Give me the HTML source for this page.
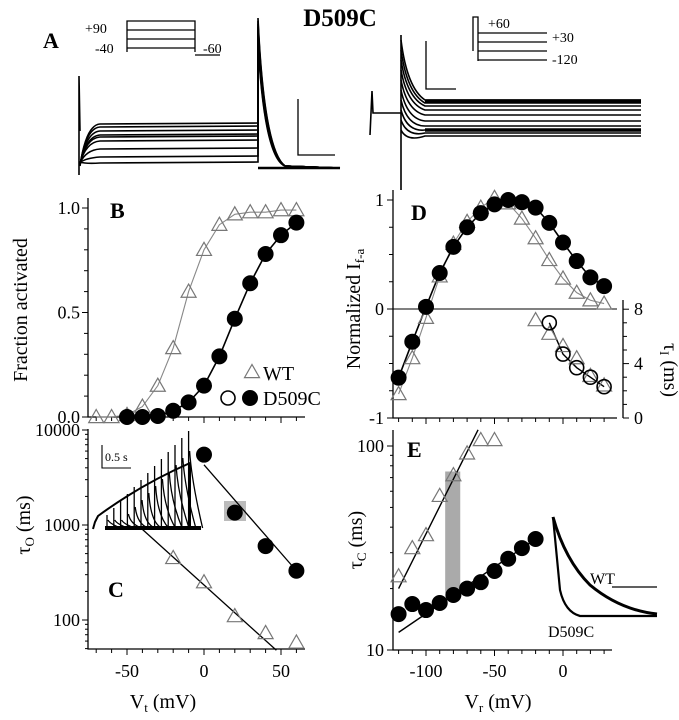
<!DOCTYPE html>
<html><head><meta charset="utf-8"><style>
html,body{margin:0;padding:0;background:#fff}
svg{display:block;font-family:"Liberation Serif",serif}
</style></head><body>
<svg id="fig" width="679" height="720" viewBox="0 0 679 720">
<text x="340" y="26" font-size="25" font-weight="bold" text-anchor="middle">D509C</text>
<g id="panelA" stroke="#000" fill="none" stroke-width="1.6">
<text x="43" y="48" font-size="22" font-weight="bold" stroke="none" fill="#000">A</text>
<g stroke-width="1.3">
<path d="M127 52V21H195V52M127 30H195M127 39H195M127 48H195M195 55H220"/>
<text x="85" y="33" font-size="14" stroke="none" fill="#000">+90</text>
<text x="95" y="53" font-size="14" stroke="none" fill="#000">-40</text>
<text x="203" y="53" font-size="14" stroke="none" fill="#000">-60</text>
</g>
<path d="M298 99V155H335" stroke-width="1.3"/>
<path d="M426 41V89H456" stroke-width="1.3"/>
<g stroke-width="1.3">
<path d="M473 51V17H478V61M478 33H547M478 42H547M478 51H547M478 60H547"/>
<text x="488" y="28" font-size="14" stroke="none" fill="#000">+60</text>
<text x="552" y="42" font-size="14" stroke="none" fill="#000">+30</text>
<text x="552" y="64" font-size="14" stroke="none" fill="#000">-120</text>
</g>
<g id="tracesL"></g>
<g id="tracesR"></g>
</g>
<g id="plots"></g>
</svg>
<script>
// ---- data ----
const bVolt=[-70,-60,-50,-40,-30,-20,-10,0,10,20,30,40,50,60];
const bWT=[0,0,0.01,0.05,0.15,0.33,0.6,0.8,0.92,0.97,0.98,0.98,0.99,0.99];
const bMutV=[-50,-40,-30,-20,-10,0,10,20,30,40,50,60];
const bMut=[0,0,0.005,0.03,0.07,0.15,0.29,0.47,0.64,0.78,0.87,0.93];
const cWTV=[-20,0,20,40,60];
const cWT=[450,250,110,73,58];
const cMutV=[0,20,40,60];
const cMut=[5500,1350,600,330];
const dVolt=[-120,-110,-100,-90,-80,-70,-60,-50,-40,-30,-20,-10,0,10,20,30];
const dMut=[-0.63,-0.3,0.02,0.33,0.57,0.75,0.88,0.96,1.0,0.98,0.93,0.79,0.61,0.44,0.29,0.21];
const dWT=[-0.78,-0.45,-0.08,0.3,0.6,0.8,0.93,1.02,0.97,0.83,0.65,0.45,0.28,0.15,0.08,0.05];
const tauIV=[-10,0,10,20,30];
const tauIMut=[7.0,4.7,3.7,3.0,2.3];
const tauIWTV=[-20,-10,0,10,20,30];
const tauIWT=[7.2,6.2,5.3,4.4,3.1,2.4];
const eVolt=[-120,-110,-100,-90,-80,-70,-60,-50];
const eWT=[23,31.6,36.6,57,72,92,107,107];
const eMutV=[-120,-110,-100,-90,-80,-70,-60,-50,-40,-30,-20];
const eMut=[15,16.8,15.7,17,18.6,20,21.5,24.4,28,31.6,35];
const bTicks=["0.0","0.5","1.0"];
const cTicks=["100","1000","10000"];
const xTicksL=["-50","0","50"];
const xTicksR=["-100","-50","0"];

const NS="http://www.w3.org/2000/svg";
const root=document.getElementById('plots');
function mk(tag,at,parent){const e=document.createElementNS(NS,tag);for(const k in at)e.setAttribute(k,at[k]);(parent||root).appendChild(e);return e;}
function txt(x,y,s,sz,anchor,parent,extra){const t=mk('text',Object.assign({x:x,y:y,'font-size':sz,'text-anchor':anchor||'start'},extra||{}),parent);t.textContent=s;return t;}
const xL=v=>204+v*1.54;
const yB=v=>417-v*209;
const yC=v=>525-(Math.log10(v)-3)*95;
const xR=v=>563+v*1.37;
const yD=v=>309-v*109;
const yT=v=>418-v*13.6;
const yE=v=>650-(Math.log10(v)-1)*204;
const FS=18;

function tri(g,x,y,name){const s=7.5;const p=mk('path',{d:`M${x} ${y-s}L${x+s} ${y+s*0.75}L${x-s} ${y+s*0.75}Z`,fill:'none',stroke:'#777','stroke-width':1.2},g);

}
function dot(g,x,y,name,open){const c=mk('circle',{cx:x,cy:y,r:open?7:7.5,fill:open?'none':'#000',stroke:'#000','stroke-width':open?1.6:1},g);

}
function line(g,xs,ys,col,w){mk('polyline',{points:xs.map((x,i)=>x+','+ys[i]).join(' '),fill:'none',stroke:col,'stroke-width':w||1.4},g);}

// ---- panel B ----
const gB=mk('g',{});


mk('path',{d:'M88 198V417H305',stroke:'#000',fill:'none','stroke-width':1.3},gB);
for(let i=0;i<=10;i++){const y=yB(i/10);mk('line',{x1:88,x2:i%5?84:82,y1:y,y2:y,stroke:'#000'},gB);}
bTicks.forEach((s,i)=>txt(80,yB(i*0.5)+6,s,FS,'end',gB));
for(let v=-70;v<=60;v+=10){mk('line',{x1:xL(v),x2:xL(v),y1:417,y2:v%50?421:423,stroke:'#000'},gB);}
txt(27,310,'Fraction activated',20,'middle',gB,{transform:'rotate(-90 27 310)'});
txt(110,218,'B',22,'start',gB,{'font-weight':'bold'});
line(gB,bVolt.map(xL),bWT.map(yB),'#888',1.1);
line(gB,bMutV.map(xL),bMut.map(yB),'#000',1.6);
bVolt.forEach((v,i)=>tri(gB,xL(v),yB(bWT[i]),'wt-point'));
bMutV.forEach((v,i)=>dot(gB,xL(v),yB(bMut[i]),'d509c-point'));
tri(gB,252,372,'legend-wt-symbol');txt(263,380,'WT',20,'start',gB);
dot(gB,228,398,'legend-open-symbol',true);dot(gB,250,398,'legend-filled-symbol');txt(263,405,'D509C',20,'start',gB);

// ---- panel C ----
const gC=mk('g',{});


mk('path',{d:'M88 429V649H305',stroke:'#000',fill:'none','stroke-width':1.3},gC);
for(let d=1;d<=4;d++)for(let m=1;m<10;m++){const v=Math.pow(10,d)*m;const y=yC(v);if(y<429||y>649)continue;mk('line',{x1:88,x2:m==1?82:85,y1:y,y2:y,stroke:'#000'},gC);}
cTicks.forEach((s,i)=>txt(80,yC(Math.pow(10,i+2))+6,s,FS,'end',gC));
for(let v=-70;v<=60;v+=10){mk('line',{x1:xL(v),x2:xL(v),y1:649,y2:v%50?653:655,stroke:'#000'},gC);}
xTicksL.forEach((s,i)=>txt(xL(-50+i*50),677,s,FS,'middle',gC));
const tl=txt(163,708,'V',20,'middle',gC);tl.innerHTML='V<tspan font-size="13" dy="4">t</tspan><tspan dy="-4"> (mV)</tspan>';
const cl=txt(30,525,'',20,'middle',gC,{transform:'rotate(-90 30 525)'});cl.innerHTML='τ<tspan font-size="13" dy="4">O</tspan><tspan dy="-4"> (ms)</tspan>';
txt(108,597,'C',22,'start',gC,{'font-weight':'bold'});
mk('rect',{x:224,y:501,width:22,height:20,fill:'#bbb'},gC);
line(gC,[xL(0),xL(60)],[yC(4300),yC(330)],'#000',1.3);
line(gC,[xL(-40),xL(47)],[yC(900),yC(48)],'#000',1.3);
cMutV.forEach((v,i)=>dot(gC,xL(v),yC(cMut[i]),'d509c-tau-o'));
cWTV.forEach((v,i)=>tri(gC,xL(v),yC(cWT[i]),'wt-tau-o'));
const gI=mk('g',{stroke:'#000',fill:'none','stroke-width':1.3},gC);


mk('path',{d:'M102 445V468H131','stroke-width':1.1},gI);
txt(105,461,'0.5 s',12,'start',gI,{stroke:'none',fill:'#000'});
mk('path',{d:'M93 529L95 522L98 516Q140 485 190 463V529','stroke-width':2},gI);
for(let k=0;k<13;k++){const x=107+k*6.8;const top=515-k*7;const cy=Math.min(top+50,524);mk('path',{d:`M${x} 529V${top}M${x+1} ${Math.min(top+20,520)}Q${x+3} ${cy} ${x+14} 528`},gI);}
mk('path',{d:'M105 528H201','stroke-width':4},gI);

// ---- panel D ----
const gD=mk('g',{});


mk('path',{d:'M393 190V418H617',stroke:'#000',fill:'none','stroke-width':1.3},gD);
mk('line',{x1:393,x2:617,y1:309,y2:309,stroke:'#000'},gD);
for(let i=-4;i<=4;i++){const y=yD(i/4);mk('line',{x1:393,x2:i%4?389:387,y1:y,y2:y,stroke:'#000'},gD);}
[["-1",-1],["0",0],["1",1]].forEach(a=>txt(384,yD(a[1])+6,a[0],FS,'end',gD));
for(let v=-120;v<=30;v+=10){mk('line',{x1:xR(v),x2:xR(v),y1:418,y2:v%50?422:424,stroke:'#000'},gD);}
const dl=txt(360,309,'',20,'middle',gD,{transform:'rotate(-90 360 309)'});dl.innerHTML='Normalized I<tspan font-size="13" dy="4">f-a</tspan>';
txt(411,220,'D',22,'start',gD,{'font-weight':'bold'});
mk('line',{x1:623,x2:623,y1:300,y2:418,stroke:'#000','stroke-width':1.3},gD);
for(let v=0;v<=8;v++){mk('line',{x1:623,x2:v%4?627:629,y1:yT(v),y2:yT(v),stroke:'#000'},gD);}
[["0",0],["4",4],["8",8]].forEach(a=>txt(634,yT(a[1])+6,a[0],FS,'start',gD));
const tIl=txt(664,370,'',20,'middle',gD,{transform:'rotate(90 664 370)'});tIl.innerHTML='τ<tspan font-size="13" dy="4">I</tspan><tspan dy="-4"> (ms)</tspan>';
line(gD,dVolt.map(xR),dWT.map(yD),'#888',1.1);
line(gD,dVolt.map(xR),dMut.map(yD),'#000',1.6);
line(gD,tauIV.map(xR),tauIMut.map(yT),'#000',1.4);
dVolt.forEach((v,i)=>tri(gD,xR(v),yD(dWT[i]),'wt-normalized-current'));
dVolt.forEach((v,i)=>dot(gD,xR(v),yD(dMut[i]),'d509c-normalized-current'));
tauIWTV.forEach((v,i)=>tri(gD,xR(v),yT(tauIWT[i]),'wt-tau-i'));
tauIV.forEach((v,i)=>dot(gD,xR(v),yT(tauIMut[i]),'d509c-tau-i',true));

// ---- panel E ----
const gE=mk('g',{});


mk('path',{d:'M393 430V650H612',stroke:'#000',fill:'none','stroke-width':1.3},gE);
for(let m=1;m<=12;m++){const v=m<10?10*m:100*(m-9);const y=yE(v);if(y<430)continue;mk('line',{x1:393,x2:(m==1||m==10)?387:390,y1:y,y2:y,stroke:'#000'},gE);}
txt(384,yE(100)+6,'100',FS,'end',gE);txt(384,yE(10)+6,'10',FS,'end',gE);
for(let v=-120;v<=30;v+=10){mk('line',{x1:xR(v),x2:xR(v),y1:650,y2:v%50?654:656,stroke:'#000'},gE);}
xTicksR.forEach((s,i)=>txt(xR(-100+i*50),677,s,FS,'middle',gE));
const rl=txt(498,708,'',20,'middle',gE);rl.innerHTML='V<tspan font-size="13" dy="4">r</tspan><tspan dy="-4"> (mV)</tspan>';
const el=txt(362,540,'',20,'middle',gE,{transform:'rotate(-90 362 540)'});el.innerHTML='τ<tspan font-size="13" dy="4">C</tspan><tspan dy="-4"> (ms)</tspan>';
txt(407,457,'E',22,'start',gE,{'font-weight':'bold'});
mk('rect',{x:xR(-86),y:yE(75),width:xR(-75)-xR(-86),height:yE(19)-yE(75),fill:'#aaa'},gE);
line(gE,[xR(-120),xR(-62)],[yE(20),yE(120)],'#000',1.4);
line(gE,[xR(-120),xR(-20)],[yE(12.2),yE(35)],'#000',1.4);
eVolt.forEach((v,i)=>tri(gE,xR(v),yE(eWT[i]),'wt-tau-c'));
eMutV.forEach((v,i)=>dot(gE,xR(v),yE(eMut[i]),'d509c-tau-c'));
const gJ=mk('g',{stroke:'#000',fill:'none'},gE);


mk('path',{d:'M553 517Q565 560 590 585Q620 610 657 614','stroke-width':3},gJ);
mk('path',{d:'M553 517L560 590Q565 612 580 616H657','stroke-width':2.2},gJ);
mk('line',{x1:612,x2:657,y1:587,y2:587,'stroke-width':1.2},gJ);
txt(590,584,'WT',16,'start',gJ,{stroke:'none',fill:'#000'});
txt(548,637,'D509C',16,'start',gJ,{stroke:'none',fill:'#000'});

// ---- panel A traces ----
const gL=document.getElementById('tracesL');
const lvlL=[123,126,130,134,136,140,148,156,162];
mk('path',{d:'M79 175V76L80 131'},gL);
lvlL.forEach((y,i)=>{mk('path',{d:`M80 ${166-i*0.5}Q86 ${y+2} 100 ${y+1}L258 ${y}L258 ${18+i*3}Q264 ${150+i} 285 166L340 168`},gL);});
mk('path',{d:'M258 168H340','stroke-width':2.5},gL);
const gR=document.getElementById('tracesR');
mk('path',{d:'M370 135L372 91L373 113H401V35M401 190V113'},gR);
const lvlR=[100,103,106,110,115,121,126,130,133,136];
lvlR.forEach((y,i)=>{mk('path',{d:`M401 ${40+i*10}Q407 ${y-12+i*2} 425 ${y}L641 ${y}`},gR);});
mk('path',{d:'M425 101H641M425 130H641','stroke-width':3.5},gR);
</script>
</body></html>
